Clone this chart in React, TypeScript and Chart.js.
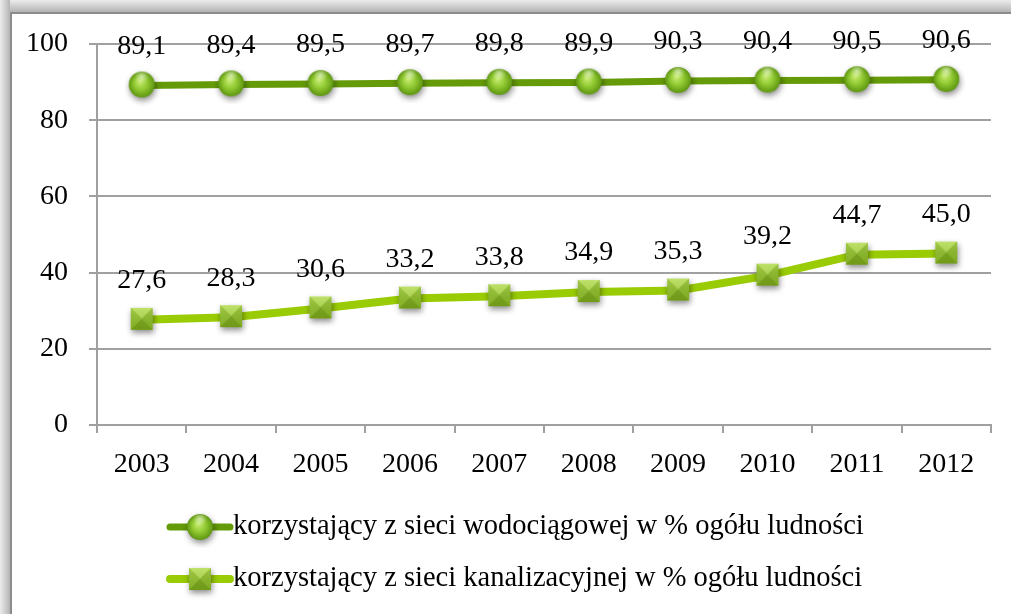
import React, { useEffect, useRef } from "react";
import { Chart, registerables } from "chart.js";

Chart.register(...registerables);

const years = ["2003", "2004", "2005", "2006", "2007", "2008", "2009", "2010", "2011", "2012"];
const waterValues = [89.1, 89.4, 89.5, 89.7, 89.8, 89.9, 90.3, 90.4, 90.5, 90.6];
const sewerValues = [27.6, 28.3, 30.6, 33.2, 33.8, 34.9, 35.3, 39.2, 44.7, 45.0];
const waterLabel = "korzystający z sieci wodociągowej w % ogółu ludności";
const sewerLabel = "korzystający z sieci kanalizacyjnej w % ogółu ludności";
const yTicks = [0, 20, 40, 60, 80, 100];

const FONT = "'Liberation Serif', 'Times New Roman', serif";

function makeCircle(): HTMLCanvasElement {
  const c = document.createElement("canvas");
  c.width = 40;
  c.height = 40;
  const ctx = c.getContext("2d")!;
  const cx = 20, cy = 19, r = 13;
  ctx.save();
  ctx.shadowColor = "rgba(0,0,0,0.45)";
  ctx.shadowBlur = 6;
  ctx.shadowOffsetY = 3;
  ctx.shadowOffsetX = 1;
  const g = ctx.createRadialGradient(cx - 2, cy - 3, 1, cx, cy, r);
  g.addColorStop(0, "#c2e86a");
  g.addColorStop(0.45, "#94cc35");
  g.addColorStop(1, "#5e9610");
  ctx.fillStyle = g;
  ctx.beginPath();
  ctx.arc(cx, cy, r, 0, Math.PI * 2);
  ctx.fill();
  ctx.restore();
  const h = ctx.createRadialGradient(cx, cy - 8, 0, cx, cy - 8, 7);
  h.addColorStop(0, "rgba(255,255,255,0.55)");
  h.addColorStop(1, "rgba(255,255,255,0)");
  ctx.fillStyle = h;
  ctx.beginPath();
  ctx.arc(cx, cy, r, 0, Math.PI * 2);
  ctx.fill();
  return c;
}

function makeSquare(): HTMLCanvasElement {
  const c = document.createElement("canvas");
  c.width = 40;
  c.height = 40;
  const ctx = c.getContext("2d")!;
  const s = 22;
  const x0 = 20 - s / 2, y0 = 19 - s / 2;
  const x1 = x0 + s, y1 = y0 + s;
  const mx = 20, my = 19;
  ctx.save();
  ctx.shadowColor = "rgba(0,0,0,0.45)";
  ctx.shadowBlur = 6;
  ctx.shadowOffsetY = 3;
  ctx.shadowOffsetX = 1;
  ctx.fillStyle = "#86b521";
  ctx.fillRect(x0, y0, s, s);
  ctx.restore();
  const tri = (pts: number[][], col: string) => {
    ctx.fillStyle = col;
    ctx.beginPath();
    ctx.moveTo(pts[0][0], pts[0][1]);
    for (let i = 1; i < pts.length; i++) ctx.lineTo(pts[i][0], pts[i][1]);
    ctx.closePath();
    ctx.fill();
  };
  tri([[x0, y0], [x1, y0], [mx, my]], "#b3dc4f");
  tri([[x0, y0], [mx, my], [x0, y1]], "#91c12a");
  tri([[x1, y0], [mx, my], [x1, y1]], "#8bbb25");
  tri([[x0, y1], [mx, my], [x1, y1]], "#7aa81a");
  const g = ctx.createLinearGradient(0, y0, 0, y1);
  g.addColorStop(0, "rgba(255,255,255,0.15)");
  g.addColorStop(1, "rgba(0,0,0,0.08)");
  ctx.fillStyle = g;
  ctx.fillRect(x0, y0, s, s);
  return c;
}

const dataLabelPlugin = {
  id: "dataLabels",
  afterDatasetsDraw(chart: any) {
    const ctx = chart.ctx;
    ctx.save();
    ctx.font = `28px ${FONT}`;
    ctx.fillStyle = "#000";
    ctx.textAlign = "center";
    ctx.textBaseline = "middle";
    chart.data.datasets.forEach((ds: any, di: number) => {
      const meta = chart.getDatasetMeta(di);
      meta.data.forEach((pt: any, i: number) => {
        const v = ds.data[i] as number;
        ctx.fillText(v.toFixed(1).replace(".", ","), pt.x, pt.y - 39);
      });
    });
    ctx.restore();
  },
};

const legendPlugin = {
  id: "customLegend",
  afterDraw(chart: any) {
    const ctx = chart.ctx;
    const area = chart.chartArea;
    ctx.save();
    ctx.font = `28.5px ${FONT}`;
    ctx.textBaseline = "middle";
    ctx.textAlign = "left";
    chart.data.datasets.forEach((ds: any, i: number) => {
      const y = area.bottom + 102 + i * 52;
      const xs = 170;
      const xe = 230;
      ctx.strokeStyle = ds.borderColor;
      ctx.lineWidth = ds.borderWidth;
      ctx.lineCap = "round";
      ctx.beginPath();
      ctx.moveTo(xs, y);
      ctx.lineTo(xe, y);
      ctx.stroke();
      const img = ds.pointStyle as HTMLCanvasElement;
      ctx.drawImage(img, (xs + xe) / 2 - img.width / 2, y - img.height / 2 + 1);
      ctx.fillStyle = "#000";
      ctx.fillText(ds.label, 233, y);
    });
    ctx.restore();
  },
};

export default function App() {
  const ref = useRef<HTMLCanvasElement | null>(null);

  useEffect(() => {
    if (!ref.current) return;
    const circle = makeCircle();
    const square = makeSquare();
    const chart = new Chart(ref.current, {
      type: "line",
      data: {
        labels: years,
        datasets: [
          {
            label: waterLabel,
            data: waterValues,
            borderColor: "#659a08",
            borderWidth: 7,
            pointStyle: circle as any,
            pointRadius: 13,
            tension: 0,
            borderCapStyle: "round",
          },
          {
            label: sewerLabel,
            data: sewerValues,
            borderColor: "#9acc05",
            borderWidth: 8,
            pointStyle: square as any,
            pointRadius: 12,
            tension: 0,
            borderCapStyle: "round",
          },
        ],
      },
      options: {
        responsive: false,
        animation: false,
        devicePixelRatio: 1,
        layout: { padding: { left: 7, top: 44, right: 18, bottom: 129 } },
        plugins: { legend: { display: false }, tooltip: { enabled: false } },
        scales: {
          x: {
            type: "category",
            offset: true,
            afterFit: (s: any) => {
              s.height = 60;
            },
            grid: {
              offset: true,
              drawOnChartArea: false,
              drawTicks: true,
              tickLength: 8,
              color: "#a0a0a0",
              lineWidth: 2,
            },
            border: { display: true, color: "#a0a0a0", width: 2 },
            ticks: {
              color: "#000",
              font: { family: FONT, size: 28 },
              padding: 15,
              maxRotation: 0,
            },
          },
          y: {
            min: 0,
            max: 100,
            afterFit: (s: any) => {
              s.width = 90;
            },
            afterBuildTicks: (s: any) => {
              s.ticks = yTicks.map((v) => ({ value: v }));
            },
            grid: {
              color: "#a0a0a0",
              lineWidth: 2,
              drawTicks: true,
              tickLength: 8,
            },
            border: { display: true, color: "#a0a0a0", width: 2 },
            ticks: {
              color: "#000",
              font: { family: FONT, size: 28 },
              padding: 21,
            },
          },
        },
      },
      plugins: [dataLabelPlugin, legendPlugin],
    });
    return () => chart.destroy();
  }, []);

  return (
    <div
      style={{
        position: "fixed",
        left: 0,
        top: 0,
        width: 1011,
        height: 614,
        overflow: "hidden",
        background: "#fff",
      }}
    >
      <div
        style={{
          position: "absolute",
          left: 0,
          top: 0,
          width: 1011,
          height: 12,
          background: "linear-gradient(to bottom, #ececec, #b4b4b4)",
        }}
      />
      <div
        style={{
          position: "absolute",
          left: 0,
          top: 0,
          width: 10,
          height: 614,
          background: "linear-gradient(to right, #ececec, #b4b4b4)",
        }}
      />
      <div
        style={{
          position: "absolute",
          left: 10,
          top: 12,
          width: 1100,
          height: 700,
          borderLeft: "2px solid #8c8c8c",
          borderTop: "2px solid #8c8c8c",
          background: "#fff",
        }}
      />
      <canvas
        ref={ref}
        width={1011}
        height={614}
        style={{ position: "absolute", left: 0, top: 0, display: "block" }}
      />
    </div>
  );
}
